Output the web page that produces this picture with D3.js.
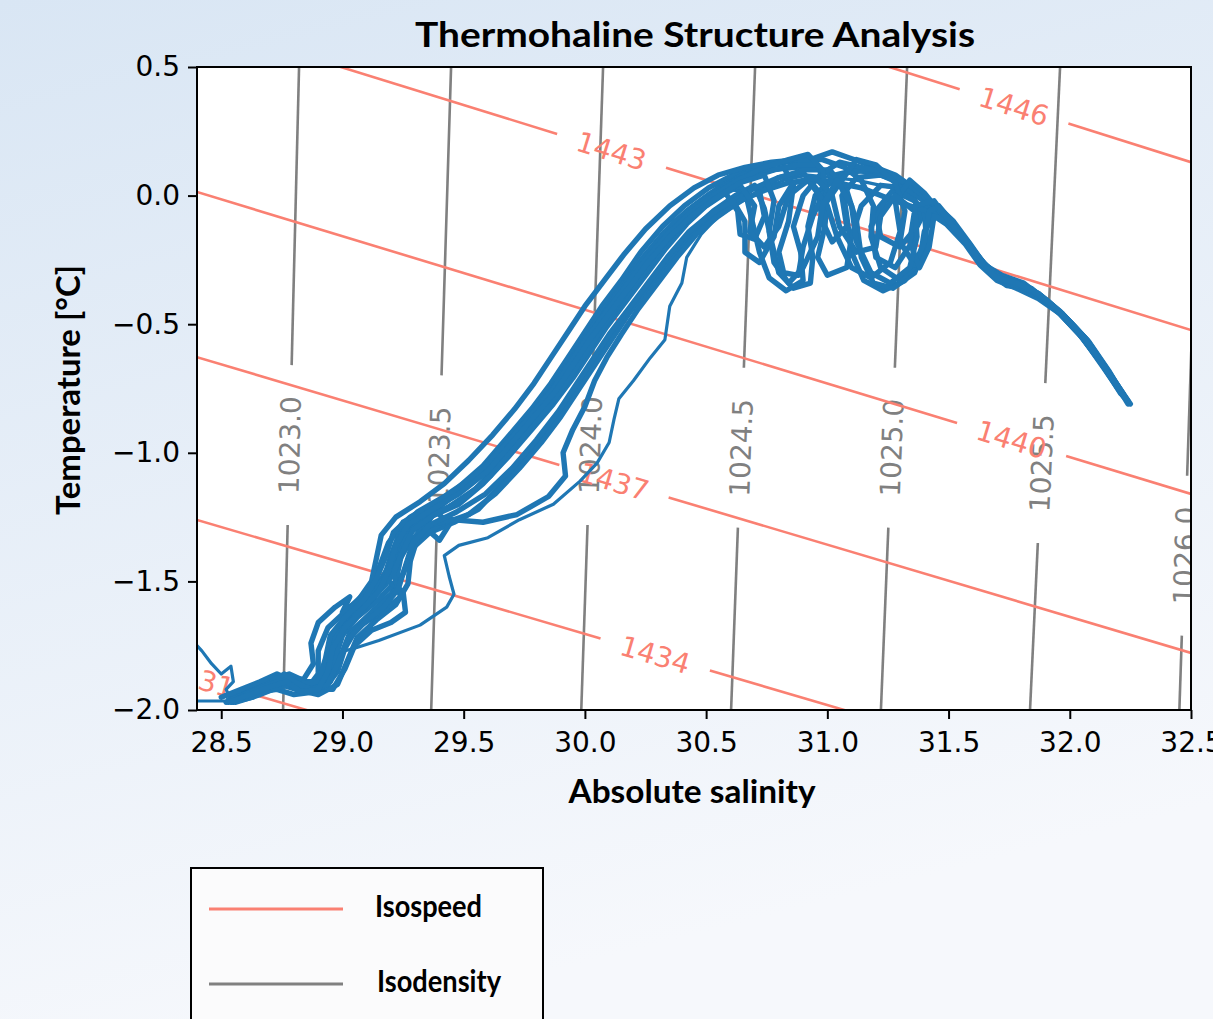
<!DOCTYPE html>
<html>
<head>
<meta charset="utf-8">
<script src="https://cdn.jsdelivr.net/npm/d3@7"></script>
<style>
  body { margin: 0; }
  svg { display: block; }
</style>
</head>
<body>
<svg id="chart"></svg>
<script>
// Page and plot dimensions
const width = 1213;
const height = 1019;
const margin = { top: 67, right: 22, bottom: 309, left: 197 };
const plotW = width - margin.left - margin.right;
const plotH = height - margin.top - margin.bottom;

// Axis ticks
const xTicks = [28.5, 29.0, 29.5, 30.0, 30.5, 31.0, 31.5, 32.0, 32.5];
const yTicks = [0.5, 0.0, -0.5, -1.0, -1.5, -2.0];

// Isodensity contours: salinity where each line meets T = 0.5 and T = -2.0
const isoDensValues = [1023.0, 1023.5, 1024.0, 1024.5, 1025.0, 1025.5, 1026.0];
const isoDensTopS = [28.821, 29.448, 30.075, 30.702, 31.329, 31.960, 32.540];
const isoDensBotS = [28.755, 29.366, 29.985, 30.603, 31.221, 31.836, 32.452];
const isoDensLabelT = [-0.97, -1.01, -0.97, -0.98, -0.98, -1.04, -1.40];

// Isospeed contours: temperature where each line meets S = 28.4 and S = 32.5
const isoSpeedValues = [1431, 1434, 1437, 1440, 1443, 1446];
const isoSpeedLeftT = [-1.876, -1.261, -0.628, 0.014, 0.673, 1.349];
const isoSpeedRightT = [-3.003, -2.396, -1.778, -1.160, -0.523, 0.130];
const isoSpeedLabelS = [28.41, 30.29, 30.12, 31.76, 30.11, 31.77];

// CTD profiles [absolute salinity, temperature]
const profile1 = [[28.52,-1.97],[28.60,-1.94],[28.68,-1.91],[28.74,-1.87],[28.79,-1.90],[28.86,-1.91],[28.90,-1.86],[28.90,-1.77],[28.94,-1.68],[29.02,-1.61],[29.11,-1.53],[29.15,-1.45],[29.19,-1.35],[29.25,-1.27],[29.35,-1.22],[29.46,-1.15],[29.58,-1.05],[29.69,-0.93],[29.78,-0.83],[29.86,-0.73],[29.93,-0.63],[30.00,-0.53],[30.07,-0.43],[30.15,-0.33],[30.23,-0.22],[30.32,-0.12],[30.41,-0.04],[30.51,0.03],[30.61,0.08],[30.72,0.11],[30.83,0.13],[30.93,0.14],[31.02,0.17],[31.08,0.15],[31.17,0.12],[31.28,0.08],[31.37,0.02],[31.45,-0.05],[31.53,-0.12],[31.59,-0.20],[31.65,-0.27],[31.72,-0.31],[31.81,-0.34],[31.89,-0.40],[31.98,-0.47],[32.07,-0.56],[32.15,-0.67],[32.24,-0.80]];
const profile2 = [[28.56,-1.96],[28.65,-1.93],[28.73,-1.92],[28.80,-1.94],[28.88,-1.93],[28.95,-1.89],[28.99,-1.80],[29.03,-1.70],[29.12,-1.62],[29.20,-1.55],[29.25,-1.47],[29.29,-1.37],[29.36,-1.31],[29.46,-1.27],[29.56,-1.22],[29.66,-1.12],[29.75,-1.02],[29.84,-0.92],[29.92,-0.82],[29.99,-0.72],[30.06,-0.62],[30.13,-0.52],[30.21,-0.42],[30.29,-0.32],[30.37,-0.22],[30.45,-0.13],[30.53,-0.06],[30.62,0.00],[30.70,0.04],[30.74,-0.05],[30.77,-0.18],[30.80,-0.30],[30.86,-0.36],[30.93,-0.34],[30.94,-0.24],[30.92,-0.12],[30.95,0.00],[31.03,0.08],[31.12,0.10],[31.22,0.08],[31.32,0.04],[31.40,-0.02],[31.49,-0.09],[31.57,-0.17],[31.63,-0.25],[31.70,-0.31],[31.78,-0.34],[31.87,-0.38],[31.97,-0.46],[32.06,-0.55],[32.14,-0.66],[32.23,-0.79]];
const profile3 = [[28.54,-1.95],[28.62,-1.92],[28.70,-1.89],[28.76,-1.88],[28.83,-1.92],[28.91,-1.92],[28.95,-1.84],[28.96,-1.75],[29.00,-1.66],[29.07,-1.59],[29.14,-1.52],[29.20,-1.43],[29.23,-1.33],[29.30,-1.26],[29.40,-1.21],[29.51,-1.13],[29.62,-1.03],[29.72,-0.92],[29.81,-0.82],[29.89,-0.72],[29.96,-0.62],[30.03,-0.52],[30.11,-0.42],[30.19,-0.32],[30.27,-0.22],[30.36,-0.12],[30.45,-0.04],[30.55,0.03],[30.65,0.08],[30.76,0.10],[30.87,0.11],[30.98,0.10],[31.06,0.05],[31.08,-0.08],[31.10,-0.22],[31.15,-0.33],[31.23,-0.37],[31.32,-0.33],[31.39,-0.22],[31.41,-0.10],[31.36,-0.02],[31.27,0.02],[31.20,-0.06],[31.22,-0.16],[31.30,-0.20],[31.37,-0.12],[31.42,-0.03],[31.49,-0.09],[31.56,-0.17],[31.62,-0.25],[31.69,-0.31],[31.77,-0.33],[31.86,-0.38],[31.96,-0.46],[32.05,-0.55],[32.13,-0.65],[32.20,-0.75]];
const profile4 = [[28.55,-1.97],[28.64,-1.93],[28.72,-1.90],[28.78,-1.89],[28.85,-1.93],[28.92,-1.91],[28.96,-1.82],[28.99,-1.72],[29.06,-1.64],[29.15,-1.57],[29.22,-1.50],[29.24,-1.41],[29.28,-1.31],[29.36,-1.25],[29.48,-1.20],[29.58,-1.12],[29.68,-1.02],[29.78,-0.91],[29.87,-0.81],[29.95,-0.71],[30.02,-0.61],[30.09,-0.51],[30.17,-0.41],[30.25,-0.31],[30.33,-0.21],[30.42,-0.11],[30.50,-0.04],[30.58,0.01],[30.63,-0.06],[30.64,-0.15],[30.70,-0.17],[30.74,-0.08],[30.72,0.02],[30.80,0.07],[30.90,0.09],[30.96,0.02],[30.98,-0.10],[31.02,-0.18],[31.08,-0.12],[31.06,0.00],[31.12,0.07],[31.22,0.08],[31.31,0.05],[31.39,-0.01],[31.47,-0.07],[31.55,-0.15],[31.61,-0.23],[31.67,-0.30],[31.74,-0.35],[31.82,-0.36],[31.90,-0.41],[31.99,-0.48],[32.08,-0.58],[32.17,-0.70],[32.25,-0.81]];
const profile5 = [[28.53,-1.96],[28.61,-1.94],[28.69,-1.92],[28.75,-1.89],[28.81,-1.92],[28.89,-1.93],[28.94,-1.87],[28.95,-1.79],[28.97,-1.70],[29.03,-1.63],[29.10,-1.56],[29.17,-1.49],[29.20,-1.40],[29.24,-1.30],[29.30,-1.24],[29.38,-1.22],[29.44,-1.28],[29.40,-1.34],[29.34,-1.29],[29.40,-1.20],[29.50,-1.14],[29.60,-1.04],[29.70,-0.94],[29.79,-0.84],[29.87,-0.74],[29.94,-0.64],[30.01,-0.54],[30.08,-0.44],[30.16,-0.34],[30.24,-0.24],[30.33,-0.14],[30.42,-0.06],[30.52,0.01],[30.62,0.06],[30.73,0.09],[30.82,0.11],[30.86,0.04],[30.84,-0.10],[30.80,-0.22],[30.82,-0.30],[30.88,-0.31],[30.90,-0.20],[30.94,-0.08],[31.00,0.04],[31.08,0.09],[31.18,0.10],[31.28,0.06],[31.37,0.01],[31.46,-0.06],[31.54,-0.14],[31.61,-0.22],[31.67,-0.29],[31.75,-0.33],[31.84,-0.36],[31.93,-0.43],[32.02,-0.51],[32.11,-0.62],[32.19,-0.73],[32.24,-0.80]];
const profile6 = [[28.57,-1.95],[28.66,-1.92],[28.74,-1.90],[28.81,-1.92],[28.90,-1.94],[28.98,-1.90],[29.02,-1.81],[29.06,-1.72],[29.14,-1.65],[29.22,-1.59],[29.27,-1.51],[29.28,-1.42],[29.31,-1.33],[29.40,-1.28],[29.52,-1.24],[29.63,-1.16],[29.73,-1.06],[29.82,-0.96],[29.90,-0.86],[29.97,-0.76],[30.04,-0.66],[30.11,-0.56],[30.18,-0.46],[30.26,-0.36],[30.34,-0.26],[30.42,-0.17],[30.51,-0.09],[30.60,-0.03],[30.70,0.03],[30.80,0.07],[30.91,0.10],[31.01,0.10],[31.08,0.02],[31.12,-0.10],[31.14,-0.24],[31.19,-0.34],[31.27,-0.36],[31.36,-0.30],[31.41,-0.18],[31.40,-0.06],[31.33,0.01],[31.24,-0.02],[31.18,-0.12],[31.20,-0.24],[31.28,-0.28],[31.35,-0.18],[31.38,-0.06],[31.44,-0.03],[31.52,-0.10],[31.59,-0.19],[31.65,-0.27],[31.72,-0.33],[31.80,-0.35],[31.89,-0.40],[31.99,-0.48],[32.08,-0.57],[32.16,-0.68],[32.23,-0.79]];
const profile7 = [[28.54,-1.97],[28.63,-1.95],[28.71,-1.91],[28.77,-1.88],[28.84,-1.91],[28.91,-1.90],[28.94,-1.81],[28.97,-1.72],[29.03,-1.65],[29.11,-1.58],[29.18,-1.51],[29.22,-1.42],[29.26,-1.32],[29.33,-1.26],[29.44,-1.21],[29.55,-1.14],[29.65,-1.04],[29.75,-0.93],[29.84,-0.83],[29.92,-0.73],[29.99,-0.63],[30.06,-0.53],[30.14,-0.43],[30.22,-0.33],[30.30,-0.23],[30.39,-0.13],[30.48,-0.05],[30.58,0.02],[30.68,0.07],[30.78,0.10],[30.88,0.12],[30.96,0.12],[31.00,0.02],[30.99,-0.12],[30.96,-0.24],[31.00,-0.31],[31.08,-0.28],[31.10,-0.16],[31.14,-0.04],[31.22,0.04],[31.32,0.03],[31.40,-0.02],[31.48,-0.08],[31.56,-0.16],[31.62,-0.24],[31.68,-0.31],[31.76,-0.35],[31.85,-0.37],[31.94,-0.44],[32.03,-0.52],[32.12,-0.63],[32.20,-0.75]];
const profile8 = [[28.55,-1.95],[28.64,-1.91],[28.72,-1.88],[28.78,-1.86],[28.85,-1.89],[28.93,-1.89],[28.97,-1.80],[29.00,-1.71],[29.05,-1.63],[29.13,-1.56],[29.19,-1.48],[29.22,-1.38],[29.25,-1.29],[29.31,-1.23],[29.42,-1.17],[29.53,-1.10],[29.64,-1.00],[29.74,-0.90],[29.83,-0.80],[29.91,-0.70],[29.98,-0.60],[30.05,-0.50],[30.12,-0.40],[30.20,-0.30],[30.28,-0.20],[30.37,-0.10],[30.47,-0.03],[30.57,0.03],[30.66,0.02],[30.69,-0.10],[30.72,-0.22],[30.76,-0.32],[30.83,-0.37],[30.90,-0.33],[30.89,-0.22],[30.86,-0.12],[30.90,0.00],[30.97,0.08],[31.05,0.13],[31.14,0.11],[31.24,0.09],[31.34,0.04],[31.42,-0.02],[31.50,-0.10],[31.57,-0.18],[31.64,-0.27],[31.71,-0.32],[31.79,-0.34],[31.88,-0.39],[31.98,-0.47],[32.07,-0.56],[32.15,-0.67],[32.22,-0.77]];
const profile9 = [[28.56,-1.97],[28.66,-1.94],[28.74,-1.91],[28.80,-1.90],[28.88,-1.92],[28.96,-1.92],[29.01,-1.84],[29.05,-1.75],[29.12,-1.69],[29.20,-1.66],[29.26,-1.62],[29.25,-1.54],[29.19,-1.50],[29.22,-1.44],[29.27,-1.36],[29.33,-1.29],[29.45,-1.26],[29.58,-1.27],[29.72,-1.24],[29.85,-1.17],[29.92,-1.09],[29.91,-1.00],[29.95,-0.91],[30.00,-0.82],[30.04,-0.72],[30.09,-0.63],[30.15,-0.54],[30.22,-0.44],[30.30,-0.34],[30.38,-0.24],[30.46,-0.15],[30.55,-0.08],[30.64,-0.02],[30.74,0.02],[30.84,0.05],[30.94,0.06],[31.04,0.05],[31.14,0.03],[31.25,-0.01],[31.34,-0.04],[31.41,-0.06],[31.49,-0.11],[31.57,-0.19],[31.63,-0.27],[31.70,-0.33],[31.78,-0.36],[31.87,-0.40],[31.96,-0.46],[32.05,-0.55],[32.14,-0.67],[32.22,-0.78]];
const profile10 = [[28.50,-1.95],[28.58,-1.92],[28.66,-1.89],[28.73,-1.86],[28.78,-1.88],[28.84,-1.88],[28.88,-1.82],[28.87,-1.74],[28.90,-1.66],[28.97,-1.60],[29.03,-1.56],[29.00,-1.62],[29.06,-1.58],[29.12,-1.50],[29.14,-1.41],[29.16,-1.32],[29.22,-1.25],[29.32,-1.19],[29.42,-1.12],[29.52,-1.03],[29.62,-0.93],[29.71,-0.83],[29.79,-0.73],[29.86,-0.63],[29.93,-0.53],[30.00,-0.43],[30.08,-0.33],[30.16,-0.23],[30.25,-0.13],[30.35,-0.04],[30.45,0.03],[30.55,0.08],[30.66,0.11],[30.77,0.13],[30.88,0.14],[30.98,0.14],[31.07,0.11],[31.14,0.06],[31.19,-0.04],[31.18,-0.16],[31.22,-0.28],[31.30,-0.33],[31.38,-0.26],[31.40,-0.14],[31.45,-0.06],[31.52,-0.12],[31.59,-0.20],[31.66,-0.28],[31.73,-0.33],[31.82,-0.35],[31.91,-0.41],[32.00,-0.49],[32.09,-0.59],[32.17,-0.70],[32.24,-0.81]];
const profile11 = [[28.55,-1.96],[28.64,-1.92],[28.72,-1.89],[28.79,-1.88],[28.86,-1.91],[28.93,-1.91],[28.98,-1.85],[29.01,-1.76],[29.06,-1.68],[29.16,-1.62],[29.24,-1.56],[29.21,-1.47],[29.25,-1.38],[29.29,-1.30],[29.38,-1.24],[29.50,-1.18],[29.61,-1.09],[29.71,-0.98],[29.81,-0.87],[29.89,-0.77],[29.97,-0.66],[30.04,-0.56],[30.11,-0.46],[30.18,-0.36],[30.26,-0.26],[30.35,-0.16],[30.44,-0.08],[30.54,-0.01],[30.64,0.04],[30.70,-0.04],[30.68,-0.14],[30.74,-0.20],[30.80,-0.12],[30.84,0.00],[30.92,0.06],[31.00,-0.04],[31.04,-0.16],[31.10,-0.28],[31.18,-0.32],[31.26,-0.26],[31.30,-0.14],[31.28,-0.02],[31.34,0.06],[31.40,0.01],[31.47,-0.07],[31.55,-0.15],[31.62,-0.24],[31.69,-0.30],[31.77,-0.34],[31.86,-0.38],[31.95,-0.45],[32.04,-0.54],[32.13,-0.65],[32.21,-0.77]];
const profile12 = [[28.54,-1.96],[28.62,-1.93],[28.69,-1.90],[28.76,-1.86],[28.82,-1.90],[28.90,-1.89],[28.93,-1.80],[28.95,-1.71],[29.01,-1.64],[29.09,-1.57],[29.14,-1.49],[29.18,-1.40],[29.21,-1.31],[29.28,-1.25],[29.37,-1.20],[29.48,-1.14],[29.59,-1.05],[29.69,-0.95],[29.78,-0.85],[29.87,-0.75],[29.94,-0.65],[30.01,-0.55],[30.09,-0.45],[30.17,-0.35],[30.25,-0.25],[30.34,-0.15],[30.43,-0.07],[30.53,0.00],[30.63,0.06],[30.74,0.11],[30.84,0.14],[30.92,0.16],[30.98,0.10],[31.00,-0.02],[31.06,0.06],[31.12,0.14],[31.20,0.12],[31.28,0.05],[31.32,-0.06],[31.30,-0.18],[31.36,-0.27],[31.40,-0.18],[31.42,-0.06],[31.46,-0.04],[31.53,-0.12],[31.60,-0.21],[31.67,-0.29],[31.74,-0.34],[31.83,-0.36],[31.92,-0.42],[32.01,-0.50],[32.10,-0.61],[32.18,-0.72],[32.24,-0.80]];
const profile16 = [[28.56,-1.96],[28.65,-1.92],[28.73,-1.89],[28.80,-1.89],[28.87,-1.92],[28.94,-1.90],[28.98,-1.82],[29.02,-1.73],[29.09,-1.66],[29.17,-1.60],[29.23,-1.53],[29.26,-1.44],[29.29,-1.35],[29.36,-1.28],[29.47,-1.23],[29.59,-1.16],[29.70,-1.06],[29.80,-0.95],[29.89,-0.84],[29.96,-0.74],[30.03,-0.64],[30.10,-0.54],[30.18,-0.44],[30.26,-0.34],[30.34,-0.24],[30.43,-0.14],[30.52,-0.07],[30.61,-0.02],[30.66,-0.10],[30.66,-0.22],[30.72,-0.26],[30.78,-0.16],[30.80,-0.04],[30.86,0.05],[30.95,0.07],[31.02,0.00],[31.05,-0.12],[31.12,-0.22],[31.20,-0.20],[31.22,-0.08],[31.28,0.00],[31.36,-0.06],[31.34,-0.18],[31.38,-0.28],[31.42,-0.20],[31.44,-0.08],[31.50,-0.10],[31.58,-0.18],[31.64,-0.26],[31.71,-0.32],[31.79,-0.35],[31.88,-0.39],[31.97,-0.46],[32.06,-0.56],[32.15,-0.68],[32.23,-0.79]];
const profile17 = [[28.53,-1.97],[28.62,-1.94],[28.70,-1.91],[28.77,-1.89],[28.83,-1.93],[28.90,-1.92],[28.94,-1.85],[28.96,-1.76],[29.01,-1.68],[29.08,-1.61],[29.15,-1.54],[29.19,-1.46],[29.22,-1.36],[29.27,-1.28],[29.37,-1.22],[29.48,-1.16],[29.60,-1.07],[29.70,-0.96],[29.79,-0.86],[29.88,-0.76],[29.95,-0.66],[30.02,-0.56],[30.10,-0.46],[30.18,-0.36],[30.26,-0.26],[30.35,-0.16],[30.44,-0.08],[30.54,-0.01],[30.64,0.05],[30.74,0.08],[30.78,-0.02],[30.76,-0.14],[30.78,-0.26],[30.84,-0.34],[30.90,-0.28],[30.96,-0.16],[30.98,-0.04],[31.04,0.06],[31.10,-0.04],[31.12,-0.18],[31.18,-0.30],[31.26,-0.34],[31.34,-0.28],[31.37,-0.16],[31.36,-0.04],[31.44,-0.02],[31.51,-0.11],[31.58,-0.19],[31.64,-0.27],[31.70,-0.32],[31.78,-0.34],[31.87,-0.38],[31.96,-0.45],[32.05,-0.54],[32.13,-0.65],[32.21,-0.76]];
// stray casts that stand apart from the main bundle
const profile13 = [[28.56,-1.95],[28.66,-1.92],[28.76,-1.90],[28.86,-1.93],[28.94,-1.86],[28.97,-1.78],[29.05,-1.76],[29.15,-1.73],[29.32,-1.67],[29.43,-1.60],[29.46,-1.55],[29.44,-1.48],[29.42,-1.40],[29.48,-1.36],[29.60,-1.33],[29.73,-1.26],[29.87,-1.20],[29.98,-1.11],[30.05,-1.04],[30.10,-0.96],[30.12,-0.87],[30.14,-0.79],[30.20,-0.72],[30.27,-0.63],[30.33,-0.56],[30.35,-0.43],[30.40,-0.34],[30.42,-0.24],[30.48,-0.15],[30.55,-0.08],[30.62,-0.04],[30.72,0.02],[30.82,0.06],[30.92,0.08],[31.02,0.07],[31.12,0.06],[31.22,0.04],[31.32,0.02],[31.41,-0.03],[31.50,-0.10],[31.58,-0.18],[31.64,-0.26],[31.71,-0.32],[31.80,-0.35],[31.90,-0.41],[32.00,-0.49],[32.09,-0.59],[32.17,-0.70],[32.23,-0.79]];
const profile14 = [[28.38,-1.73],[28.42,-1.77],[28.46,-1.82],[28.50,-1.86],[28.54,-1.83],[28.55,-1.89],[28.52,-1.92],[28.54,-1.96]];
const profile15 = [[28.36,-1.965],[28.45,-1.965],[28.52,-1.965],[28.56,-1.96]];

const mainProfiles = [profile1, profile2, profile3, profile4, profile5, profile6, profile7, profile8,
  profile9, profile10, profile11, profile12, profile16, profile17];
const strayProfiles = [profile13, profile14, profile15];

const svg = d3.select("#chart")
    .attr("width", width)
    .attr("height", height);

// Slide-like background
const defs = svg.append("defs");
const grad = defs.append("linearGradient")
    .attr("id", "bg")
    .attr("x1", 0).attr("y1", 0).attr("x2", 0.3).attr("y2", 1);
grad.append("stop").attr("offset", 0).attr("stop-color", "#d9e6f4");
grad.append("stop").attr("offset", 1).attr("stop-color", "#f6f8fc");
svg.append("rect")
    .attr("width", width).attr("height", height)
    .attr("fill", "url(#bg)");

defs.append("clipPath").attr("id", "plotClip")
  .append("rect")
    .attr("x", margin.left).attr("y", margin.top)
    .attr("width", plotW).attr("height", plotH);

// Scales
const x = d3.scaleLinear().domain([28.4, 32.5]).range([margin.left, margin.left + plotW]);
const y = d3.scaleLinear().domain([-2.0, 0.5]).range([margin.top + plotH, margin.top]);

svg.append("rect")
    .attr("x", margin.left).attr("y", margin.top)
    .attr("width", plotW).attr("height", plotH)
    .attr("fill", "#ffffff");

const plot = svg.append("g").attr("clip-path", "url(#plotClip)");

// Draw a straight contour with an inline label
function drawContour(g, p0, p1, t, halfGap, color, label) {
    const dx = p1[0] - p0[0], dy = p1[1] - p0[1];
    const len = Math.hypot(dx, dy);
    const ux = dx / len, uy = dy / len;
    const cx = p0[0] + dx * t, cy = p0[1] + dy * t;
    g.append("line")
        .attr("x1", p0[0]).attr("y1", p0[1])
        .attr("x2", cx - ux * halfGap).attr("y2", cy - uy * halfGap)
        .attr("stroke", color).attr("stroke-width", 2.6);
    g.append("line")
        .attr("x1", cx + ux * halfGap).attr("y1", cy + uy * halfGap)
        .attr("x2", p1[0]).attr("y2", p1[1])
        .attr("stroke", color).attr("stroke-width", 2.6);
    let ang = Math.atan2(dy, dx) * 180 / Math.PI;
    if (ang > 90) ang -= 180;
    if (ang <= -90) ang += 180;
    g.append("text")
        .attr("transform", `translate(${cx},${cy}) rotate(${ang})`)
        .attr("text-anchor", "middle")
        .attr("dy", "0.36em")
        .attr("font-family", "DejaVu Sans, sans-serif")
        .attr("font-size", 28)
        .attr("fill", color)
        .text(label);
}

// Isodensity lines
const densG = plot.append("g");
isoDensValues.forEach((v, i) => {
    const p0 = [x(isoDensTopS[i]), y(0.5)];
    const p1 = [x(isoDensBotS[i]), y(-2.0)];
    const t = (0.5 - isoDensLabelT[i]) / 2.5;
    drawContour(densG, p0, p1, t, 80, "#808080", d3.format(".1f")(v));
});

// Isospeed lines
const speedG = plot.append("g");
isoSpeedValues.forEach((v, i) => {
    const p0 = [x(28.4), y(isoSpeedLeftT[i])];
    const p1 = [x(32.5), y(isoSpeedRightT[i])];
    const t = (isoSpeedLabelS[i] - 28.4) / 4.1;
    drawContour(speedG, p0, p1, t, 57, "#fa8072", v);
});

// T-S profiles
const line = d3.line().x(d => x(d[0])).y(d => y(d[1]));
const tsG = plot.append("g")
    .attr("fill", "none")
    .attr("stroke", "#1f77b4")
    .attr("stroke-linejoin", "round")
    .attr("stroke-linecap", "round");
tsG.selectAll("path.stray")
    .data(strayProfiles)
    .join("path")
    .attr("class", "stray")
    .attr("d", line)
    .attr("stroke-width", 3.2);
tsG.selectAll("path.main")
    .data(mainProfiles)
    .join("path")
    .attr("class", "main")
    .attr("d", line)
    .attr("stroke-width", 5.4);

// Axes
const fmt = d3.format(".1f");
const xAxis = svg.append("g")
    .attr("transform", `translate(0,${margin.top + plotH})`)
    .call(d3.axisBottom(x).tickValues(xTicks).tickFormat(fmt).tickSize(9).tickSizeOuter(0).tickPadding(13));
const yAxis = svg.append("g")
    .attr("transform", `translate(${margin.left},0)`)
    .call(d3.axisLeft(y).tickValues(yTicks).tickFormat(fmt).tickSize(9).tickSizeOuter(0).tickPadding(8));
[xAxis, yAxis].forEach(a => {
    a.select(".domain").remove();
    a.selectAll(".tick line").attr("stroke", "#000").attr("stroke-width", 2);
    a.selectAll(".tick text")
        .attr("font-family", "DejaVu Sans, sans-serif")
        .attr("font-size", 28)
        .attr("fill", "#000");
});

svg.append("rect")
    .attr("x", margin.left).attr("y", margin.top)
    .attr("width", plotW).attr("height", plotH)
    .attr("fill", "none")
    .attr("stroke", "#000")
    .attr("stroke-width", 2);

// Titles
const boldFont = "Lato, 'Open Sans', sans-serif";
svg.append("text")
    .attr("x", 695).attr("y", 47)
    .attr("text-anchor", "middle")
    .attr("font-family", boldFont).attr("font-weight", "bold")
    .attr("font-size", 34)
    .attr("textLength", 560).attr("lengthAdjust", "spacingAndGlyphs")
    .text("Thermohaline Structure Analysis");

svg.append("text")
    .attr("x", 692).attr("y", 803)
    .attr("text-anchor", "middle")
    .attr("font-family", boldFont).attr("font-weight", "bold")
    .attr("font-size", 32)
    .attr("textLength", 247).attr("lengthAdjust", "spacingAndGlyphs")
    .text("Absolute salinity");

svg.append("text")
    .attr("transform", "translate(80,390) rotate(-90)")
    .attr("text-anchor", "middle")
    .attr("font-family", boldFont).attr("font-weight", "bold")
    .attr("font-size", 32)
    .attr("textLength", 250).attr("lengthAdjust", "spacingAndGlyphs")
    .text("Temperature [°C]");

// Legend
const legend = svg.append("g");
legend.append("rect")
    .attr("x", 191).attr("y", 868)
    .attr("width", 352).attr("height", 170)
    .attr("fill", "#fbfbfc")
    .attr("stroke", "#000")
    .attr("stroke-width", 2);
const legendItems = [
    { label: "Isospeed", color: "#fa8072", y: 909, tx: 375, w: 107 },
    { label: "Isodensity", color: "#808080", y: 984, tx: 377, w: 124 }
];
legendItems.forEach(d => {
    legend.append("line")
        .attr("x1", 209).attr("x2", 343)
        .attr("y1", d.y).attr("y2", d.y)
        .attr("stroke", d.color).attr("stroke-width", 3);
    legend.append("text")
        .attr("x", d.tx).attr("y", d.y + 8)
        .attr("font-family", boldFont).attr("font-weight", "bold")
        .attr("font-size", 30)
        .attr("textLength", d.w).attr("lengthAdjust", "spacingAndGlyphs")
        .text(d.label);
});
</script>
</body>
</html>
